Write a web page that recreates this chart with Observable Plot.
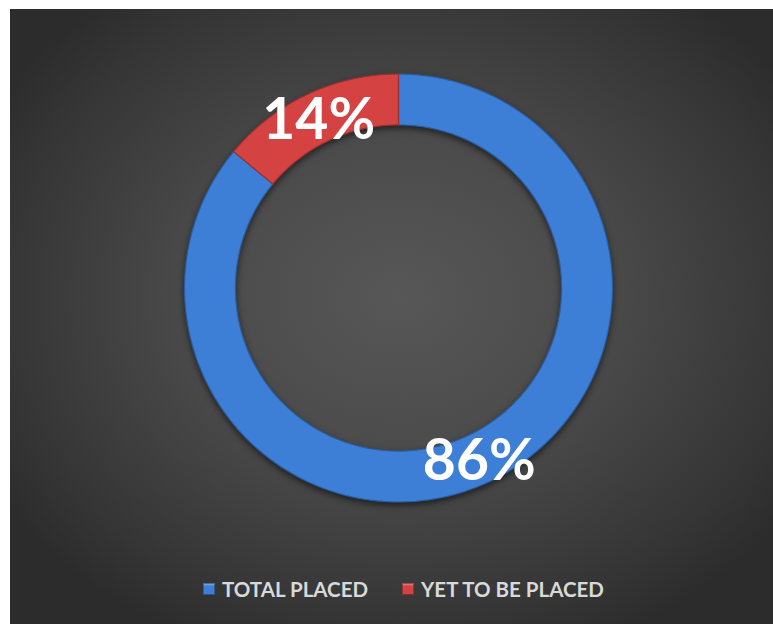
<!DOCTYPE html>
<html>
<head>
<meta charset="utf-8">
<script src="https://cdn.jsdelivr.net/npm/d3@7"></script>
<script src="https://cdn.jsdelivr.net/npm/@observablehq/plot@0.6"></script>
<style>
  html, body { margin: 0; padding: 0; background: #ffffff; width: 773px; height: 624px; overflow: hidden; }
  #panel {
    position: absolute; left: 10px; top: 9px; width: 763px; height: 615px;
    background: radial-gradient(ellipse 62% 62% at 51% 47%, #575757 0%, #4a4a4a 45%, #353535 85%, #2c2c2c 100%);
    font-family: Lato, "Open Sans", sans-serif;
  }
  #chart { position: absolute; left: 0; top: 0; }
  #chart svg { background: transparent; }
  #chart g[aria-label="area"] { filter: drop-shadow(0px 3px 3px rgba(0,0,0,0.55)); }
  #legend {
    position: absolute; left: 193px; top: 568px; height: 24px;
    display: flex; align-items: center; color: #d9d9d9; font-weight: bold; font-size: 20.5px;
    font-family: Lato, "Open Sans", sans-serif; white-space: nowrap;
  }
  .item { display: flex; align-items: center; }
  .sw { width: 12px; height: 12px; margin-right: 7px; box-shadow: inset 0 0 0 1px rgba(0,0,0,0.35), inset 0 2px 2px rgba(255,255,255,0.35); }
</style>
</head>
<body>
<div id="panel">
  <div id="chart"></div>
  <div id="legend"></div>
</div>
<script>
const categories = ["TOTAL PLACED", "YET TO BE PLACED"];
const values = [86, 14];
const colors = ["#3d7ed6", "#d44242"];
const labels = ["86%", "14%"];

const rOuter = 1;
const rInner = 0.762;

const pie = d3.pie().sort(null).value(d => d.value)(
  categories.map((c, i) => ({category: c, value: values[i], label: labels[i]}))
);

// ring polygons: outer line (x2,y2) and inner line (x1,y1)
const ringPts = [];
for (const s of pie) {
  const n = 180;
  for (let k = 0; k <= n; k++) {
    const a = s.startAngle + (s.endAngle - s.startAngle) * k / n;
    ringPts.push({
      category: s.data.category,
      x1: rInner * Math.sin(a), y1: rInner * Math.cos(a),
      x2: rOuter * Math.sin(a), y2: rOuter * Math.cos(a)
    });
  }
}
const rMid = (rOuter + rInner) / 2;
const labelPts = pie.map(s => {
  const a = (s.startAngle + s.endAngle) / 2;
  return {category: s.data.category, label: s.data.label, x: rMid * Math.sin(a), y: rMid * Math.cos(a)};
});

const cx = 388.5, cy = 279, R = 214;
const chart = Plot.plot({
  width: 763,
  height: 560,
  margin: 0,
  style: {background: "transparent", overflow: "visible"},
  x: {domain: [-1, 1], range: [cx - R, cx + R], axis: null},
  y: {domain: [-1, 1], range: [cy + R, cy - R], axis: null},
  color: {domain: categories, range: colors},
  marks: [
    Plot.area(ringPts, {x1: "x1", y1: "y1", x2: "x2", y2: "y2", z: "category", fill: "category",
      stroke: d => d.category, strokeOpacity: 1, strokeWidth: 1.2}),
    Plot.text(labelPts, {x: "x", y: "y", text: "label", fill: "white", fontSize: 57, fontWeight: "bold",
      fontFamily: "Lato, 'Open Sans', sans-serif", dy: 3})
  ]
});
// darken stroke of ring paths
chart.querySelectorAll('g[aria-label="area"] path').forEach(p => {
  const f = p.getAttribute("fill");
  if (f) p.setAttribute("stroke", d3.color(f).darker(0.9).formatHex());
});
document.getElementById("chart").appendChild(chart);

const legend = document.getElementById("legend");
categories.forEach((c, i) => {
  const item = document.createElement("div");
  item.className = "item";
  if (i > 0) item.style.marginLeft = "34px";
  const sw = document.createElement("span");
  sw.className = "sw";
  sw.style.background = colors[i];
  const t = document.createElement("span");
  t.textContent = c;
  item.appendChild(sw); item.appendChild(t);
  legend.appendChild(item);
});
</script>
</body>
</html>
